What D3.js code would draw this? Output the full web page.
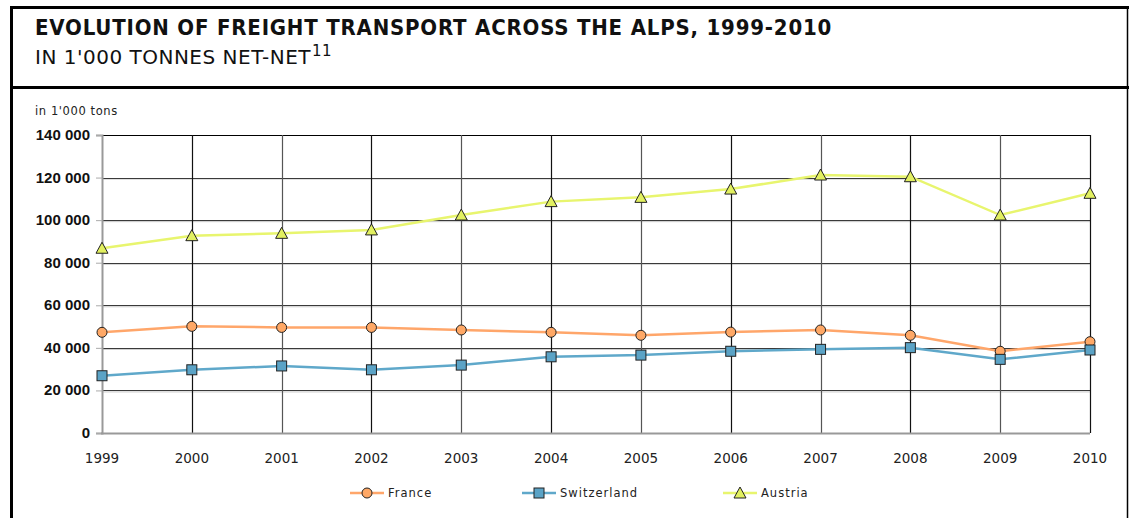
<!DOCTYPE html>
<html>
<head>
<meta charset="utf-8">
<script src="https://cdn.jsdelivr.net/npm/d3@7"></script>
<style>
  body { margin: 0; background: #fff; }
  svg { display: block; font-family: "DejaVu Sans", sans-serif; }
</style>
</head>
<body>
<div id="chart"></div>
<script>
// --- Data ---
const years = [1999, 2000, 2001, 2002, 2003, 2004, 2005, 2006, 2007, 2008, 2009, 2010];
const france = [47300, 50100, 49600, 49600, 48400, 47300, 45900, 47400, 48400, 45900, 38400, 42900];
const switzerland = [26900, 29700, 31500, 29700, 31900, 35800, 36600, 38400, 39300, 40100, 34600, 39000];
const austria = [86800, 92700, 93800, 95400, 102400, 108700, 110700, 114600, 121200, 120400, 102400, 112600];
const yTicks = [0, 20000, 40000, 60000, 80000, 100000, 120000, 140000];

const series = [
  { name: "France", values: france, line: "#FFA66A", fill: "#FFA866", shape: "circle" },
  { name: "Switzerland", values: switzerland, line: "#5FA8CA", fill: "#5BA3C6", shape: "square" },
  { name: "Austria", values: austria, line: "#E8F56E", fill: "#E2F060", shape: "triangle" }
];

// --- Setup ---
const W = 1129, H = 518;
const svg = d3.select("#chart").append("svg").attr("width", W).attr("height", H);

// frame
svg.append("rect").attr("x", 11.5).attr("y", 7.5).attr("width", 1116).attr("height", 520)
  .attr("fill", "none").attr("stroke", "#000").attr("stroke-width", 1.5);
svg.append("line").attr("x1", 11.5).attr("x2", 11.5).attr("y1", 6).attr("y2", H).attr("stroke", "#000").attr("stroke-width", 3);
svg.append("line").attr("x1", 10).attr("x2", 1129).attr("y1", 7.5).attr("y2", 7.5).attr("stroke", "#000").attr("stroke-width", 3);
svg.append("line").attr("x1", 10).attr("x2", 1129).attr("y1", 87.5).attr("y2", 87.5).attr("stroke", "#000").attr("stroke-width", 3);

// header
svg.append("text").attr("x", 35).attr("y", 35)
  .style("font-family", "'DejaVu Sans Condensed', 'DejaVu Sans', sans-serif")
  .style("font-weight", "bold").style("font-size", "22px").style("letter-spacing", "0.8px").attr("fill", "#111")
  .text("EVOLUTION OF FREIGHT TRANSPORT ACROSS THE ALPS, 1999-2010");
const sub = svg.append("text").attr("x", 35).attr("y", 64)
  .style("font-size", "20px").style("letter-spacing", "0.5px").attr("fill", "#111");
sub.append("tspan").text("IN 1'000 TONNES NET-NET");
sub.append("tspan").attr("dy", -8).attr("dx", 1).style("font-size", "15px").text("11");

// --- Scales ---
const x = d3.scalePoint().domain(years).range([102, 1090]);
const y = d3.scaleLinear().domain([0, 140000]).range([433, 135]);

// --- Grid ---
const grid = svg.append("g");
grid.selectAll("line.hs").data(yTicks.slice(1, -1)).join("line")
  .attr("x1", 102).attr("x2", 1090).attr("y1", d => y(d) + 1.5).attr("y2", d => y(d) + 1.5)
  .attr("stroke", "#c8c8c8").attr("stroke-width", 1);
grid.selectAll("line.h").data(yTicks.slice(1)).join("line").attr("class", "h")
  .attr("x1", 102).attr("x2", 1090).attr("y1", d => Math.round(y(d)) + 0.5).attr("y2", d => Math.round(y(d)) + 0.5)
  .attr("stroke", d => d === 140000 ? "#000" : "#3a3a3a").attr("stroke-width", 1.2);
grid.selectAll("line.v").data(years.slice(1)).join("line").attr("class", "v")
  .attr("x1", d => Math.round(x(d)) + 0.5).attr("x2", d => Math.round(x(d)) + 0.5)
  .attr("y1", y(140000)).attr("y2", y(0))
  .attr("stroke", (d, i) => i % 2 ? "#555" : "#111").attr("stroke-width", 1.2);

// axes
const yAxis = svg.append("g").attr("transform", "translate(102,0)")
  .call(d3.axisLeft(y).tickValues(yTicks).tickSize(6).tickPadding(6)
    .tickFormat(d => d3.format(",")(d).replace(/,/g, " ")));
yAxis.select(".domain").attr("stroke", "#999").attr("stroke-width", 2);
yAxis.selectAll(".tick line").attr("stroke", "#aaa");
yAxis.selectAll(".tick text").style("font-size", "15px").style("font-weight", "bold").attr("fill", "#111")
  .attr("dy", "0.3em");

svg.append("line").attr("x1", 101).attr("x2", 1090).attr("y1", 433.5).attr("y2", 433.5)
  .attr("stroke", "#999").attr("stroke-width", 2);

svg.append("g").selectAll("text").data(years).join("text")
  .attr("x", d => x(d)).attr("y", 463).attr("text-anchor", "middle")
  .style("font-size", "13.5px").attr("fill", "#222").text(d => d);

svg.append("text").attr("x", 35).attr("y", 115).style("font-size", "11.5px")
  .style("letter-spacing", "0.6px").attr("fill", "#222").text("in 1'000 tons");

// --- Markers ---
function drawMarker(g, shape, fill, cx, cy) {
  if (shape === "circle") {
    g.append("circle").attr("cx", cx).attr("cy", cy).attr("r", 5)
      .attr("fill", fill).attr("stroke", "#222").attr("stroke-width", 1);
  } else if (shape === "square") {
    g.append("rect").attr("x", cx - 5).attr("y", cy - 5).attr("width", 10).attr("height", 10)
      .attr("fill", fill).attr("stroke", "#222").attr("stroke-width", 1);
  } else {
    g.append("path").attr("d", `M${cx},${cy - 6}L${cx + 6},${cy + 5}L${cx - 6},${cy + 5}Z`)
      .attr("fill", fill).attr("stroke", "#222").attr("stroke-width", 1);
  }
}

// --- Lines ---
const line = d3.line().x((d, i) => x(years[i])).y(d => y(d));
series.forEach(s => {
  const g = svg.append("g");
  g.append("path").datum(s.values).attr("d", line)
    .attr("fill", "none").attr("stroke", s.line).attr("stroke-width", 2.5);
  s.values.forEach((v, i) => drawMarker(g, s.shape, s.fill, x(years[i]), y(v)));
});

// --- Legend ---
const legendX = [350, 522, 723];
series.forEach((s, i) => {
  const g = svg.append("g");
  const lx = legendX[i];
  g.append("line").attr("x1", lx).attr("x2", lx + 34).attr("y1", 493).attr("y2", 493)
    .attr("stroke", s.line).attr("stroke-width", 2.5);
  drawMarker(g, s.shape, s.fill, lx + 17, 493);
  g.append("text").attr("x", lx + 38).attr("y", 497).style("font-size", "11.5px")
    .style("letter-spacing", "1px").attr("fill", "#222").text(s.name);
});
</script>
</body>
</html>
